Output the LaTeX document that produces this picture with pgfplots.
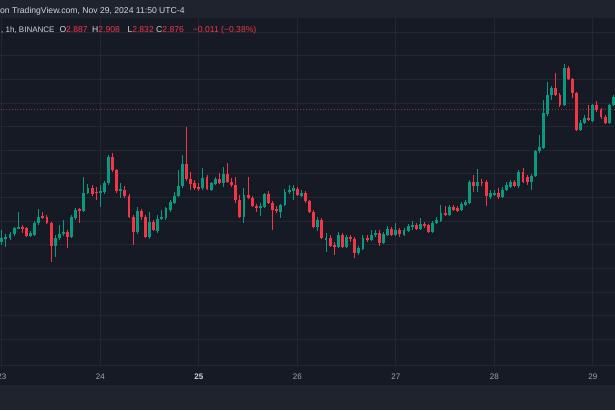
\documentclass[border=0pt]{standalone}
\usepackage{pgfplots}
\pgfplotsset{compat=1.18}
\usepackage{pgfplotstable}
\usepackage{fontspec}
\setmainfont{Liberation Sans}

\definecolor{bgmain}{HTML}{161A25}
\definecolor{bgband}{HTML}{1F232E}
\definecolor{gridc}{HTML}{232733}
\definecolor{upc}{HTML}{089981}
\definecolor{dnc}{HTML}{F23645}
\definecolor{txt}{HTML}{D1D4DC}
\definecolor{axtxt}{HTML}{A3A6AF}

% hourly candles, h = hours from Nov 24 00:00
% o, hi, lo, c read as rows of the picture (downwards from the top)
\pgfplotstableread{
h o hi lo c
-24 242 230 245 238
-23 239 234 247 237
-22 238 232 240 234
-21 234 227 236 228
-20 228 212 229 227
-17 236 231 237 233
-16 235 221 236 223
-15 223 209 225 217
-11 246 235 257 238
-10 238 225 240 234
-9 234 220 236 232
-7 237 215 238 217
-6 218 208 220 210
-4 211 177 212 193
-3 193 184 194 188
0 193 185 207 191
1 192 181 194 183
2 183 155 185 157
5 191 183 198 189
9 232 207 234 211
12 237 212 239 222
14 231 215 233 219
15 219 210 220 217
16 218 207 220 208
17 210 200 212 202
18 203 192 204 196
19 196 170 197 186
20 186 155 188 164
25 188 168 190 178
27 190 182 191 183
28 184 177 185 179
30 183 167 187 174
35 217 188 223 195
39 208 203 216 206
40 207 193 208 194
44 212 204 218 205
45 205 189 206 192
46 192 185 194 190
47 191 185 200 188
49 196 190 197 193
53 227 217 231 220
55 240 233 252 238
58 247 232 248 235
60 247 235 248 237
63 253 246 255 248
64 249 235 250 238
66 240 230 241 235
67 235 230 237 233
69 243 232 244 234
70 235 226 236 229
72 235 223 236 230
74 235 228 236 230
75 231 224 232 226
76 227 221 230 225
78 229 218 230 224
81 232 221 233 223
82 223 217 224 220
83 221 205 222 213
85 215 205 216 207
88 210 202 211 204
89 205 200 206 202
90 203 180 204 182
92 186 169 192 182
95 197 190 199 193
96 195 190 196 193
98 197 187 198 190
99 190 182 191 185
100 187 180 188 182
102 186 170 188 172
105 182 174 190 176
106 176 150 177 151
107 151 135 153 147
108 148 100 149 113
109 114 82 116 95
110 95 86 100 88
113 105 64 106 68
117 130 120 131 123
118 123 115 124 118
120 121 104 122 105
124 123 104 124 105
125 105 95 106 97
}\upcandles

\pgfplotstableread{
h o hi lo c
-19 227 225 233 228
-18 228 227 237 236
-14 216 212 219 218
-13 217 215 224 223
-12 223 222 262 246
-8 232 230 248 237
-5 209 208 223 211
-2 188 185 196 194
-1 192 187 200 193
3 157 153 172 170
4 170 169 193 191
6 190 186 198 196
7 196 194 218 217
8 217 215 245 232
10 211 209 220 217
11 217 215 238 237
13 222 220 231 230
21 164 127 181 179
22 179 172 190 184
23 183 180 190 188
24 187 183 191 189
26 177 175 190 189
29 179 173 184 183
31 174 163 183 182
32 182 178 187 185
33 185 177 203 200
34 200 195 218 217
36 195 177 199 198
37 198 196 207 206
38 206 204 212 208
41 194 191 204 203
42 203 201 230 210
43 209 206 213 211
48 189 187 196 195
50 193 191 203 201
51 201 200 213 212
52 212 210 228 227
54 220 218 239 238
56 238 235 247 246
57 245 242 255 247
59 235 233 248 247
61 237 235 242 239
62 239 237 258 253
65 238 235 242 240
68 233 230 246 243
71 229 227 236 235
73 230 228 237 234
77 225 223 230 229
79 224 222 228 226
80 225 224 233 232
84 213 206 216 215
86 207 205 211 210
87 208 206 212 211
91 182 175 192 186
93 182 179 186 183
94 182 180 206 196
97 193 188 199 197
101 182 180 187 186
103 172 168 183 182
104 177 175 185 182
111 88 73 96 95
112 95 93 107 105
114 68 66 80 79
115 79 78 98 93
116 93 92 131 130
119 118 105 121 120
121 105 101 112 110
122 110 108 119 117
123 117 115 124 123
}\downcandles

\pgfplotsset{
  wick/.style={draw=none, no markers, forget plot,
    error bars/y dir=both, error bars/y explicit,
    error bars/error mark=none,
    error bars/error bar style={draw=#1, line width=1pt}},
  body/.style={draw=none, no markers, forget plot,
    error bars/y dir=both, error bars/y explicit,
    error bars/error mark=none,
    error bars/error bar style={draw=#1, line width=2.9pt}},
}

\begin{document}
\begin{tikzpicture}
\path[use as bounding box, fill=bgmain] (0,0) rectangle (615pt,410pt);
\fill[bgband] (0,392pt) rectangle (615pt,410pt);
\fill[bgband] (0,0) rectangle (615pt,25pt);

\begin{axis}[
  at={(0,45pt)}, anchor=south west,
  scale only axis, width=615pt, height=347pt,
  xmin=-24.44, xmax=125.41,
  ymin=-365, ymax=-18,
  axis line style={draw=none},
  xtick={-24,0,24,48,72,96,120},
  xticklabels={23,24,{\color{txt}\bfseries 25},26,27,28,29},
  ytick={-32.4,-56,-79.6,-103.2,-126.8,-150.4,-174,-197.6,-221.2,-244.8,-268.4,-292,-315.6,-339.2},
  yticklabels={},
  grid=major, major grid style={draw=gridc, line width=1pt},
  major tick length=0pt,
  xticklabel style={font=\fontsize{8}{9}\selectfont, text=axtxt, anchor=base, yshift=-14pt},
]
\addplot[dnc!60!bgmain, dotted, line width=0.8pt] coordinates {(-25,-109) (126,-109)};

\addplot[wick=upc] table[x=h, y expr={-(\thisrow{hi}+\thisrow{lo})/2},
  y error expr={(\thisrow{lo}-\thisrow{hi})/2}] {\upcandles};
\addplot[wick=dnc] table[x=h, y expr={-(\thisrow{hi}+\thisrow{lo})/2},
  y error expr={(\thisrow{lo}-\thisrow{hi})/2}] {\downcandles};
\addplot[body=upc] table[x=h, y expr={-(\thisrow{o}+\thisrow{c})/2},
  y error expr={max(abs(\thisrow{o}-\thisrow{c})/2,0.5)}] {\upcandles};
\addplot[body=dnc] table[x=h, y expr={-(\thisrow{o}+\thisrow{c})/2},
  y error expr={max(abs(\thisrow{o}-\thisrow{c})/2,0.5)}] {\downcandles};
\end{axis}

\draw[gridc, line width=1pt] (0,45pt) -- (615pt,45pt);

\begin{scope}[every node/.style={anchor=base west, inner sep=0pt, font=\fontsize{8.6}{10}\selectfont, text=txt}]
\node at (0,396pt) {on TradingView.com, Nov 29, 2024 11:50 UTC-4};
\node[font=\fontsize{8}{10}\selectfont] at (1pt,377pt) {, 1h, BINANCE};
\node at (59.3pt,377pt) {O\textcolor{dnc}{2.887}};
\node at (92pt,377pt) {H\textcolor{dnc}{2.908}};
\node at (127.3pt,377pt) {L\textcolor{dnc}{2.832}};
\node at (156pt,377pt) {C\textcolor{dnc}{2.876}};
\node[text=dnc] at (192.7pt,377pt) {−0.011 (−0.38\%)};
\end{scope}
\end{tikzpicture}
\end{document}
